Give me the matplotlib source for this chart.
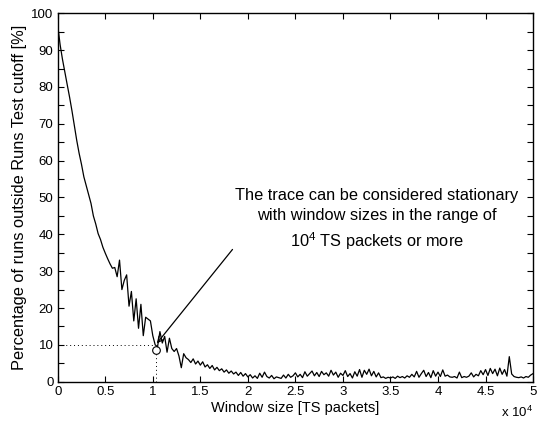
import numpy as np
import matplotlib
matplotlib.use("Agg")
import matplotlib.pyplot as plt

plt.rcParams["font.family"] = ["Liberation Sans", "DejaVu Sans"]
plt.rcParams["mathtext.fontset"] = "custom"
plt.rcParams["mathtext.rm"] = "Liberation Sans"
plt.rcParams["mathtext.it"] = "Liberation Sans:italic"

# Window sizes sampled every 250 TS packets, 0 .. 50000
window_step = 250
pct_outside = [
    96.7, 91.5, 87.5, 84.0, 80.6, 77.2, 73.5, 69.5, 65.5, 62.0,
    59.0, 55.6, 53.2, 50.7, 48.4, 45.0, 42.8, 40.2, 38.6, 36.5,
    34.9, 33.4, 32.0, 30.8, 31.0, 28.5, 33.0, 25.0, 27.5, 29.0,
    20.5, 24.5, 16.5, 22.5, 14.5, 21.0, 12.5, 17.5, 17.0, 16.5,
    12.5, 10.0, 9.5, 13.6, 10.5, 12.3, 8.0, 11.8, 9.0, 8.2,
    9.0, 7.0, 3.8, 7.6, 6.5, 6.0, 5.2, 6.2, 4.8, 5.6,
    4.5, 5.4, 4.0, 4.6, 3.6, 4.4, 3.2, 3.9, 3.0, 3.5,
    2.6, 3.2, 2.3, 2.9, 2.1, 2.6, 1.7, 2.5, 1.5, 2.2,
    1.3,
    1.9, 1.0, 1.6, 0.9, 2.3, 1.2, 2.6, 1.4, 1.0, 1.7,
    0.8, 1.3, 1.1, 0.9, 1.8, 1.0, 2.0, 1.2, 1.6, 2.4,
    1.3, 2.0, 1.1, 2.7, 1.5, 2.2, 2.9, 1.6, 2.5, 1.4,
    2.8, 1.9, 2.4, 1.5, 3.1, 1.8, 2.6, 1.2, 2.3, 1.7,
    3.0, 1.4, 2.2, 1.0, 2.7, 1.5, 3.3, 1.2, 3.1, 2.0,
    3.4, 1.6, 2.8, 1.3, 2.4, 1.1, 1.3, 0.9, 1.2, 1.0,
    1.3, 0.9, 1.5, 1.1, 1.4, 1.0, 1.6, 1.2, 2.0, 1.3,
    2.8, 1.2, 2.2, 3.1, 1.4, 2.5, 1.1, 3.0, 1.5, 2.6,
    1.4, 3.2, 1.5, 1.8, 1.3, 1.2, 1.4, 1.0, 2.6, 1.1,
    1.4, 1.2, 1.5, 2.4, 1.3, 2.0, 1.6, 3.0, 1.9, 3.3,
    1.7, 3.6, 2.2, 3.4, 1.6, 3.7, 2.0, 3.3, 1.5, 6.8,
    2.1, 1.4, 1.2, 1.1, 1.3, 1.0, 1.4, 1.2, 1.8, 2.2,
]
window_size = np.arange(len(pct_outside)) * window_step

# marked point and annotation
mark_x, mark_y = 10350, 8.6
cutoff_level = 10
arrow_tip = (10425, 10.4)
arrow_tail = (18385, 35.9)
note = "The trace can be considered stationary\nwith window sizes in the range of\n10$^4$ TS packets or more"

xticks = np.arange(0, 50001, 5000)
xticklabels = ["0", "0.5", "1", "1.5", "2", "2.5", "3", "3.5", "4", "4.5", "5"]

fig = plt.figure(figsize=(5.42, 4.22), dpi=100)
ax = fig.add_axes([0.1065, 0.0955, 0.877, 0.873])

ax.plot(window_size, pct_outside, color="black", linewidth=0.9)
ax.plot([0, mark_x - 250], [cutoff_level, cutoff_level], color="black",
        linestyle=(0, (1, 3)), linewidth=0.7)
ax.plot([mark_x, mark_x], [0, mark_y - 1.2], color="black",
        linestyle=(0, (1, 3)), linewidth=0.7)
ax.plot(mark_x, mark_y, marker="o", markersize=5.5, markerfacecolor="none",
        markeredgecolor="black", markeredgewidth=0.8)

ax.annotate("", xy=arrow_tip, xytext=arrow_tail,
            arrowprops=dict(arrowstyle="->", color="black", lw=0.9,
                            shrinkA=0, shrinkB=0, mutation_scale=10))
ax.text(33560, 43.9, note, ha="center", va="center", multialignment="center",
        fontsize=11.8, linespacing=1.4)

ax.set_xlim(0, 50000)
ax.set_ylim(0, 100)
ax.set_xticks(xticks)
ax.set_xticklabels(xticklabels)
ax.set_yticks(np.arange(0, 101, 10))
ax.set_yticks(np.arange(5, 100, 10), minor=True)
ax.tick_params(which="both", direction="in", top=True, right=True,
               length=4, width=0.8, labelsize=9.5, pad=3)
for s in ax.spines.values():
    s.set_linewidth(1.0)

ax.set_xlabel("Window size [TS packets]", fontsize=10.5, labelpad=2)
ax.set_ylabel("Percentage of runs outside Runs Test cutoff [%]", fontsize=11.8, labelpad=3)
ax.text(1.0, -0.063, "x 10$^4$", transform=ax.transAxes, ha="right", va="top",
        fontsize=9.5)

fig.savefig("out.png", dpi=100)
